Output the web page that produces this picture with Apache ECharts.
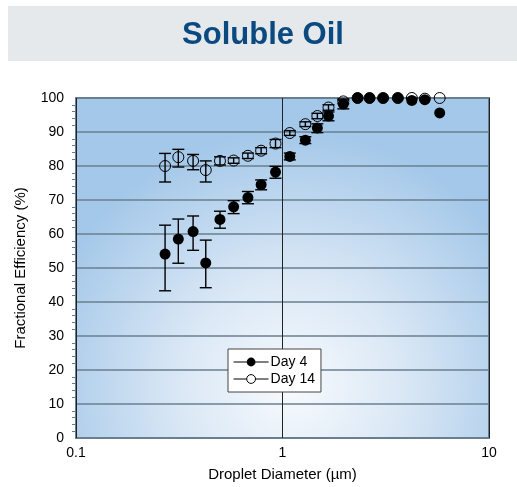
<!DOCTYPE html>
<html><head><meta charset="utf-8">
<script src="https://cdn.jsdelivr.net/npm/echarts@6/dist/echarts.min.js"></script>
<style>html,body{margin:0;padding:0;background:#fff}#c{width:517px;height:487px}</style>
</head><body><div id="c"></div>
<script>
const diameters = [0.27,0.313,0.369,0.425,0.498,0.58,0.68,0.788,0.925,1.085,1.29,1.475,1.67,1.97,2.31,2.64,3.07,3.62,4.23,4.89,5.77];
const day4 = [54.1,58.5,60.7,51.5,64.3,68.0,70.7,74.5,78.2,82.8,87.6,91.2,94.7,98.2,100,100,100,100,99.3,99.5,95.6];
const day4Low = [43.3,51.4,55.2,44.2,61.7,66,68.9,73,76.4,81.8,86.6,89.8,93.3,96.8];
const day4High = [62.6,64.4,65.3,58.2,66.7,69.8,72.5,75.9,79.9,83.8,88.6,92.4,95.9,99.4];
const day14 = [80.0,82.6,81.5,78.8,81.5,81.6,83.0,84.5,86.6,89.7,92.3,94.7,97.2,99.0,100,100,100,100,100,99.8,100];
const day14Low = [75.3,79.7,78.9,75.3,80.3,80.8,82.2,83.6,85.4,89.0,91.6,93.9,96.4,98.3];
const day14High = [83.7,84.9,83.4,81.5,82.7,82.4,83.8,85.4,87.8,90.4,93.0,95.5,98.0,99.7];
const yTicks = [0,10,20,30,40,50,60,70,80,90,100];
const xTicks = [0.1,1,10];

const FONT = '"Liberation Sans",Arial,sans-serif';
const chart = echarts.init(document.getElementById('c'));
function errData(lo, hi){ return lo.map((l,i)=>[diameters[i], l, hi[i]]); }
function errRender(params, api){
  const x = api.value(0);
  const p1 = api.coord([x, api.value(1)]);
  const p2 = api.coord([x, api.value(2)]);
  const w = 6;
  const st = {stroke:'#000', lineWidth:1.4};
  return {type:'group', children:[
    {type:'line', shape:{x1:p1[0],y1:p1[1],x2:p2[0],y2:p2[1]}, style:st},
    {type:'line', shape:{x1:p1[0]-w,y1:p1[1],x2:p1[0]+w,y2:p1[1]}, style:st},
    {type:'line', shape:{x1:p2[0]-w,y1:p2[1],x2:p2[0]+w,y2:p2[1]}, style:st}
  ]};
}
chart.setOption({
  animation:false,
  graphic:[
    {type:'rect', shape:{x:8,y:6,width:509,height:55}, style:{fill:'#e6e9ec'}, z:-1},
    {type:'text', x:263, y:35, style:{text:'Soluble Oil', fill:'#0b4a80', align:'center', verticalAlign:'middle', font:'bold 31px "Liberation Sans", Arial, sans-serif'}}
  ],
  grid:{left:76, right:28, top:98, bottom:46, show:true, borderColor:'#687d8d', borderWidth:2,
    backgroundColor:{type:'radial', x:0.52, y:0.85, r:0.75, colorStops:[{offset:0,color:'#f7fafd'},{offset:0.45,color:'#d9e7f5'},{offset:1,color:'#a4c8e9'}]}},
  legend:{
    orient:'vertical', left:228, top:349, padding:[6,6,6,5], itemGap:3,
    backgroundColor:'#fff', borderColor:'#444', borderWidth:1, borderRadius:0,
    itemWidth:35, itemHeight:11,
    textStyle:{fontFamily:FONT, fontSize:14, color:'#000', padding:[0,0,0,-3]},
    lineStyle:{width:1.2, color:'#000', opacity:1},
    data:[{name:'Day 4'},{name:'Day 14', itemStyle:{color:'#fff', borderColor:'#000', borderWidth:1}}]
  },
  xAxis:{type:'log', logBase:10, min:0.1, max:10,
    name:'Droplet Diameter (µm)', nameLocation:'middle', nameGap:29,
    nameTextStyle:{fontFamily:FONT, fontSize:15, color:'#000'},
    axisLine:{show:false}, axisTick:{show:false},
    axisLabel:{fontFamily:FONT, fontSize:14, color:'#000', margin:8, formatter:v=>String(v)},
    splitLine:{show:true, lineStyle:{color:'#222', width:1}}
  },
  yAxis:{type:'value', min:0, max:100, interval:10,
    name:'Fractional Efficiency (%)', nameLocation:'middle', nameGap:48,
    nameTextStyle:{fontFamily:FONT, fontSize:15, color:'#000'},
    axisLine:{show:false}, axisTick:{show:false},
    minorTick:{show:true, splitNumber:5, length:4, lineStyle:{color:'#687d8d', width:1}},
    axisLabel:{fontFamily:FONT, fontSize:14, color:'#000', margin:12},
    splitLine:{show:true, lineStyle:{color:'#6a7f90', width:1.5}}
  },
  series:[
    {type:'custom', name:'err14', renderItem:errRender, data:errData(day14Low, day14High), z:3, silent:true},
    {type:'custom', name:'err4', renderItem:errRender, data:errData(day4Low, day4High), z:3, silent:true},
    {type:'line', name:'Day 14', data:diameters.map((d,i)=>[d,day14[i]]), symbol:'circle', symbolSize:11,
      itemStyle:{color:'rgba(255,255,255,0)', borderColor:'#000', borderWidth:1}, lineStyle:{width:0, opacity:0}, z:4},
    {type:'line', name:'Day 4', data:diameters.map((d,i)=>[d,day4[i]]), symbol:'circle', symbolSize:11,
      itemStyle:{color:'#000', borderColor:'#000', borderWidth:0}, lineStyle:{width:0, opacity:0}, z:5}
  ]
});
</script></body></html>
